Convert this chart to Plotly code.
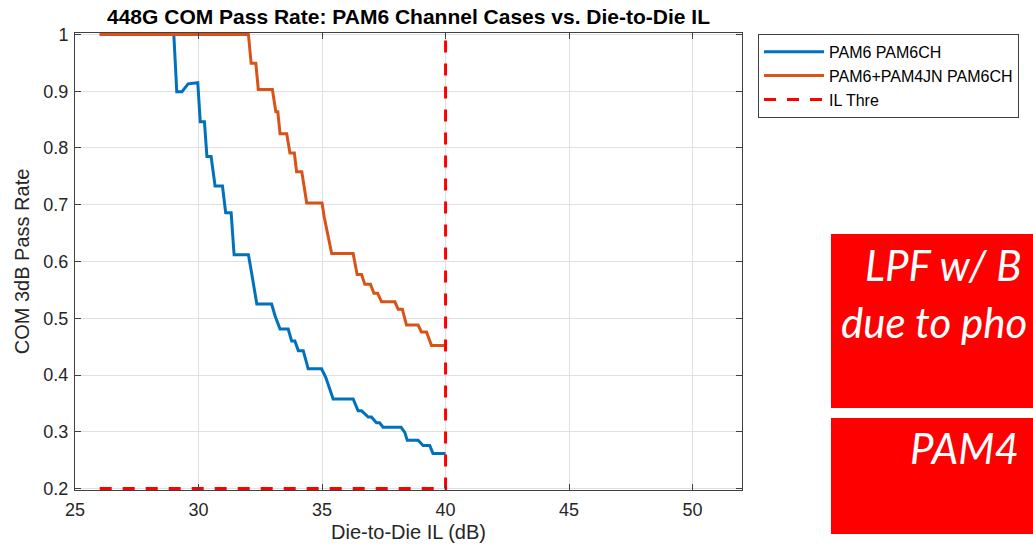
import plotly.graph_objects as go

# Die-to-die insertion loss (dB) vs. COM 3dB pass rate, stepwise curves
pam6_x = [26, 29.0, 29.12, 29.33, 29.58, 29.97, 30.07, 30.24, 30.34, 30.51, 30.67, 30.97,
          31.1, 31.32, 31.44, 32.02, 32.16, 32.36, 32.96, 33.1, 33.3, 33.63, 33.77, 33.9,
          34.04, 34.24, 34.44, 34.98, 35.15, 35.45, 36.26, 36.46, 36.6, 36.87, 37.0, 37.2,
          37.33, 37.47, 38.2, 38.35, 38.45, 38.89, 39.09, 39.36, 39.49, 40]
pam6_y = [1, 1, 0.899, 0.899, 0.913, 0.915, 0.846, 0.846, 0.785, 0.785, 0.733, 0.733,
          0.686, 0.686, 0.612, 0.612, 0.577, 0.525, 0.525, 0.504, 0.481, 0.481, 0.460, 0.460,
          0.443, 0.443, 0.411, 0.411, 0.396, 0.358, 0.358, 0.337, 0.337, 0.326, 0.326, 0.316,
          0.316, 0.308, 0.308, 0.299, 0.285, 0.285, 0.276, 0.276, 0.262, 0.262]

pam6jn_x = [26, 32.02, 32.13, 32.32, 32.42, 32.99, 33.13, 33.21, 33.3, 33.57, 33.7, 33.88,
            33.97, 34.18, 34.38, 35.0, 35.09, 35.39, 36.26, 36.42, 36.6, 36.73, 36.96, 37.1,
            37.25, 37.41, 37.95, 38.08, 38.25, 38.42, 38.89, 39.02, 39.23, 39.43, 40]
pam6jn_y = [1, 1, 0.949, 0.949, 0.903, 0.903, 0.864, 0.864, 0.825, 0.825, 0.791, 0.791,
            0.758, 0.758, 0.703, 0.703, 0.678, 0.614, 0.614, 0.577, 0.577, 0.560, 0.560, 0.544,
            0.544, 0.529, 0.529, 0.516, 0.516, 0.488, 0.488, 0.476, 0.476, 0.452, 0.452]

il_thre_x = [26, 40, 40]
il_thre_y = [0.2, 0.2, 1]

series_names = ["PAM6 PAM6CH", "PAM6+PAM4JN PAM6CH", "IL Thre"]

x_ticks = [25, 30, 35, 40, 45, 50]
y_ticks = [0.2, 0.3, 0.4, 0.5, 0.6, 0.7, 0.8, 0.9, 1.0]
y_tick_text = ["0.2", "0.3", "0.4", "0.5", "0.6", "0.7", "0.8", "0.9", "1"]

# Callout text shown in the red boxes beside the chart
note_lines = ["LPF w/ B", "due to pho"]
note_bottom = "PAM4"

FONT = "Liberation Sans, Arial, sans-serif"
AX = "#262626"

fig = go.Figure()
fig.add_trace(go.Scatter(x=pam6_x, y=pam6_y, mode="lines", name=series_names[0],
                         line=dict(color="#0072BD", width=3)))
fig.add_trace(go.Scatter(x=pam6jn_x, y=pam6jn_y, mode="lines", name=series_names[1],
                         line=dict(color="#D95319", width=3)))
fig.add_trace(go.Scatter(x=il_thre_x, y=il_thre_y, mode="lines", name=series_names[2],
                         line=dict(color="#FF0000", width=3, dash="12px,11px")))

axis_common = dict(
    showline=True, linecolor="#404040", linewidth=1, mirror="ticks",
    ticks="inside", ticklen=6, tickcolor="#404040", tickwidth=1,
    showgrid=True, gridcolor="#E0E0E0", gridwidth=1, zeroline=False,
    tickfont=dict(family=FONT, size=18, color=AX),
)

fig.update_layout(
    width=1033, height=547,
    margin=dict(l=75, r=291, t=33, b=57, autoexpand=False),
    paper_bgcolor="white", plot_bgcolor="white",
    title=dict(text="448G COM Pass Rate: PAM6 Channel Cases vs. Die-to-Die IL",
               x=0.5, xref="paper", xanchor="center",
               y=1 - 17 / 547, yref="container", yanchor="middle",
               font=dict(family=FONT, size=21, color="black", weight="bold")),
    xaxis=dict(range=[25, 52], tickvals=x_ticks,
               title=dict(text="Die-to-Die IL (dB)", standoff=6,
                          font=dict(family=FONT, size=20, color=AX)),
               ticklabelstandoff=3, **axis_common),
    yaxis=dict(range=[0.1975, 1.0025], tickvals=y_ticks, ticktext=y_tick_text,
               title=dict(text="COM 3dB Pass Rate", standoff=8,
                          font=dict(family=FONT, size=20, color=AX)),
               ticklabelstandoff=2, **axis_common),
    legend=dict(x=1.024, xanchor="left", y=0.998, yanchor="top",
                bgcolor="white", bordercolor="#404040", borderwidth=1,
                font=dict(family=FONT, size=16, color="black"),
                itemwidth=60, tracegroupgap=0),
    showlegend=True,
)

# Red callout boxes on the right
box_color = "#FF0000"
fig.add_shape(type="rect", xref="paper", yref="paper", x0=1.1334, x1=1.48,
              y0=0.1794, y1=0.5602, fillcolor=box_color, line=dict(width=0), layer="above")
fig.add_shape(type="rect", xref="paper", yref="paper", x0=1.1334, x1=1.48,
              y0=-0.0963, y1=0.1575, fillcolor=box_color, line=dict(width=0), layer="above")

note_font = dict(family="Lato, Open Sans, sans-serif", size=42, color="white", style="italic")
fig.add_annotation(text=note_lines[0], xref="paper", yref="paper", x=1.1814, y=0.4923,
                   xanchor="left", yanchor="middle", showarrow=False, font=note_font)
fig.add_annotation(text=note_lines[1], xref="paper", yref="paper", x=1.1454, y=0.3676,
                   xanchor="left", yanchor="middle", showarrow=False, font=note_font)
fig.add_annotation(text=note_bottom, xref="paper", yref="paper", x=1.2489, y=0.0919,
                   xanchor="left", yanchor="middle", showarrow=False, font=note_font)

fig.write_html("out.html")
